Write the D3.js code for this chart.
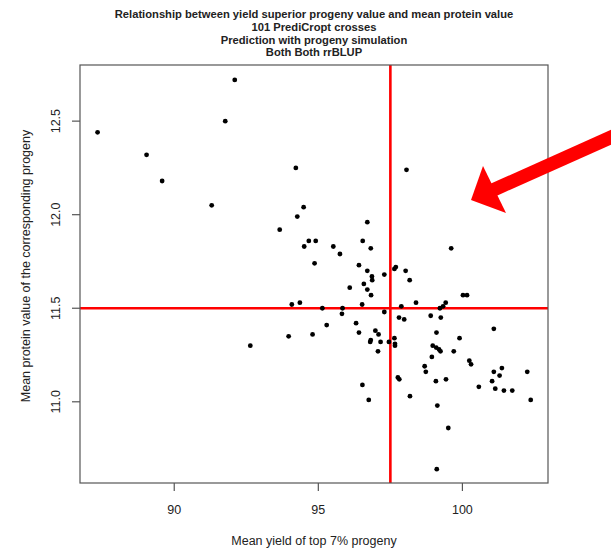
<!DOCTYPE html>
<html>
  <head>
    <meta charset="utf-8" />
    <script src="https://d3js.org/d3.v7.min.js"></script>
    <style>
      body { margin: 0; background: #ffffff; }
      text { font-family: "Liberation Sans", Arial, Helvetica, sans-serif; fill: #222222; }
      .title { font-weight: bold; font-size: 11.2px; }
      .tick-label { font-size: 12.5px; }
      .axis-label { font-size: 12.5px; }
      .frame { stroke: #555555; fill: none; stroke-width: 1.2; }
      .tick { stroke: #555555; stroke-width: 1.2; }
      .ref { stroke: #ff0000; stroke-width: 2.6; }
      .cross { fill: #000000; }
    </style>
  </head>
  <body>
    <svg width="611" height="550"></svg>

    <script type="text/javascript">

    var titleLines = [
      "Relationship between yield superior progeny value and mean protein value",
      "101 PrediCropt crosses",
      "Prediction with progeny simulation",
      "Both Both rrBLUP"
    ];
    var xLabel = "Mean yield of top 7% progeny";
    var yLabel = "Mean protein value of the corresponding progeny";
    var xTicks = [90, 95, 100];
    var yTicks = [11.0, 11.5, 12.0, 12.5];
    var xRef = 97.5;
    var yRef = 11.5;

    // mean yield of top 7% progeny, one per cross
    var yieldTop = [
      87.34, 92.10, 91.77, 89.04, 89.58, 91.30, 94.22, 94.49, 94.27, 93.66,
      94.67, 94.51, 96.70, 94.91, 95.52, 95.75, 96.54, 96.82, 94.87, 96.41,
      96.70, 96.86, 96.87, 97.29, 96.58, 96.70, 96.83, 96.09, 94.08, 94.36,
      96.52, 95.14, 95.84, 95.82, 97.29, 95.29, 96.31, 96.98, 93.97, 94.80,
      96.41, 97.09, 96.82, 97.16, 97.07, 92.64, 97.45, 96.53, 96.75, 97.64,
      97.69, 98.03, 98.17, 99.61, 97.88, 98.39, 97.80, 97.98, 99.22, 99.33,
      99.42, 100.02, 100.16, 98.90, 99.25, 97.64, 97.66, 97.66, 99.10, 98.97,
      99.09, 99.19, 99.24, 99.90, 99.70, 98.94, 100.24, 100.30, 98.69, 98.73,
      97.76, 97.81, 99.08, 99.43, 98.18, 99.13, 99.51, 99.11, 101.09, 100.57,
      101.09, 101.37, 101.29, 101.03, 101.14, 101.44, 101.73, 102.25, 102.37, 98.06,
      96.80
    ];
    // mean protein value of the corresponding progeny
    var proteinMean = [
      12.44, 12.72, 12.50, 12.32, 12.18, 12.05, 12.25, 12.04, 11.99, 11.92,
      11.86, 11.83, 11.96, 11.86, 11.83, 11.79, 11.86, 11.82, 11.74, 11.73,
      11.70, 11.67, 11.65, 11.68, 11.63, 11.60, 11.57, 11.61, 11.52, 11.53,
      11.52, 11.50, 11.50, 11.47, 11.48, 11.41, 11.42, 11.38, 11.35, 11.36,
      11.37, 11.36, 11.33, 11.32, 11.27, 11.30, 11.32, 11.09, 11.01, 11.71,
      11.72, 11.70, 11.65, 11.82, 11.51, 11.53, 11.45, 11.44, 11.50, 11.51,
      11.53, 11.57, 11.57, 11.46, 11.45, 11.34, 11.31, 11.30, 11.37, 11.30,
      11.29, 11.28, 11.27, 11.34, 11.27, 11.24, 11.22, 11.20, 11.19, 11.16,
      11.13, 11.12, 11.11, 11.12, 11.03, 10.98, 10.86, 10.64, 11.39, 11.08,
      11.16, 11.18, 11.14, 11.11, 11.07, 11.06, 11.06, 11.16, 11.01, 12.24,
      11.32
    ];

    var svg = d3.select("svg");
    var plotLeft = 80, plotRight = 548, plotTop = 65, plotBottom = 483;

    var x = d3.scaleLinear().domain([86.73, 102.97]).range([plotLeft, plotRight]);
    var y = d3.scaleLinear().domain([10.566, 12.80]).range([plotBottom, plotTop]);

    // title
    svg.selectAll(".title")
      .data(titleLines)
      .enter().append("text")
        .attr("class", "title")
        .attr("x", (plotLeft + plotRight) / 2)
        .attr("y", function(d, i) { return 18 + i * 12.8; })
        .attr("text-anchor", "middle")
        .text(function(d) { return d; });

    // reference lines
    svg.append("line").attr("class", "ref")
      .attr("x1", x(xRef)).attr("x2", x(xRef))
      .attr("y1", plotTop).attr("y2", plotBottom);
    svg.append("line").attr("class", "ref")
      .attr("x1", plotLeft).attr("x2", plotRight)
      .attr("y1", y(yRef)).attr("y2", y(yRef));

    // points
    var pts = yieldTop.map(function(v, i) { return { x: v, y: proteinMean[i] }; });
    svg.selectAll(".cross")
      .data(pts)
      .enter().append("circle")
        .attr("class", "cross")
        .attr("cx", function(d) { return x(d.x); })
        .attr("cy", function(d) { return y(d.y); })
        .attr("r", 2.4);

    // frame
    svg.append("rect").attr("class", "frame")
      .attr("x", plotLeft).attr("y", plotTop)
      .attr("width", plotRight - plotLeft).attr("height", plotBottom - plotTop);

    // x axis
    svg.selectAll(".xtick")
      .data(xTicks)
      .enter().append("line")
        .attr("class", "tick")
        .attr("x1", function(d) { return x(d); }).attr("x2", function(d) { return x(d); })
        .attr("y1", plotBottom).attr("y2", plotBottom + 8);
    svg.selectAll(".xlab")
      .data(xTicks)
      .enter().append("text")
        .attr("class", "tick-label")
        .attr("x", function(d) { return x(d); })
        .attr("y", 514)
        .attr("text-anchor", "middle")
        .text(function(d) { return d; });

    // y axis
    svg.selectAll(".ytick")
      .data(yTicks)
      .enter().append("line")
        .attr("class", "tick")
        .attr("x1", plotLeft - 8).attr("x2", plotLeft)
        .attr("y1", function(d) { return y(d); }).attr("y2", function(d) { return y(d); });
    svg.selectAll(".ylab")
      .data(yTicks)
      .enter().append("text")
        .attr("class", "tick-label")
        .attr("transform", function(d) { return "translate(60," + y(d) + ") rotate(-90)"; })
        .attr("text-anchor", "middle")
        .text(function(d) { return d3.format(".1f")(d); });

    // axis labels
    svg.append("text").attr("class", "axis-label")
      .attr("x", (plotLeft + plotRight) / 2).attr("y", 545)
      .attr("text-anchor", "middle")
      .text(xLabel);
    svg.append("text").attr("class", "axis-label")
      .attr("transform", "translate(30," + 266 + ") rotate(-90)")
      .attr("text-anchor", "middle")
      .text(yLabel);

    // red annotation arrow
    svg.append("line")
      .attr("x1", 625).attr("y1", 131)
      .attr("x2", 492).attr("y2", 190.5)
      .attr("stroke", "#ff0000").attr("stroke-width", 13.5);
    svg.append("polygon")
      .attr("points", "471,200 483,166 506,213")
      .attr("fill", "#ff0000");

    </script>
  </body>
</html>
